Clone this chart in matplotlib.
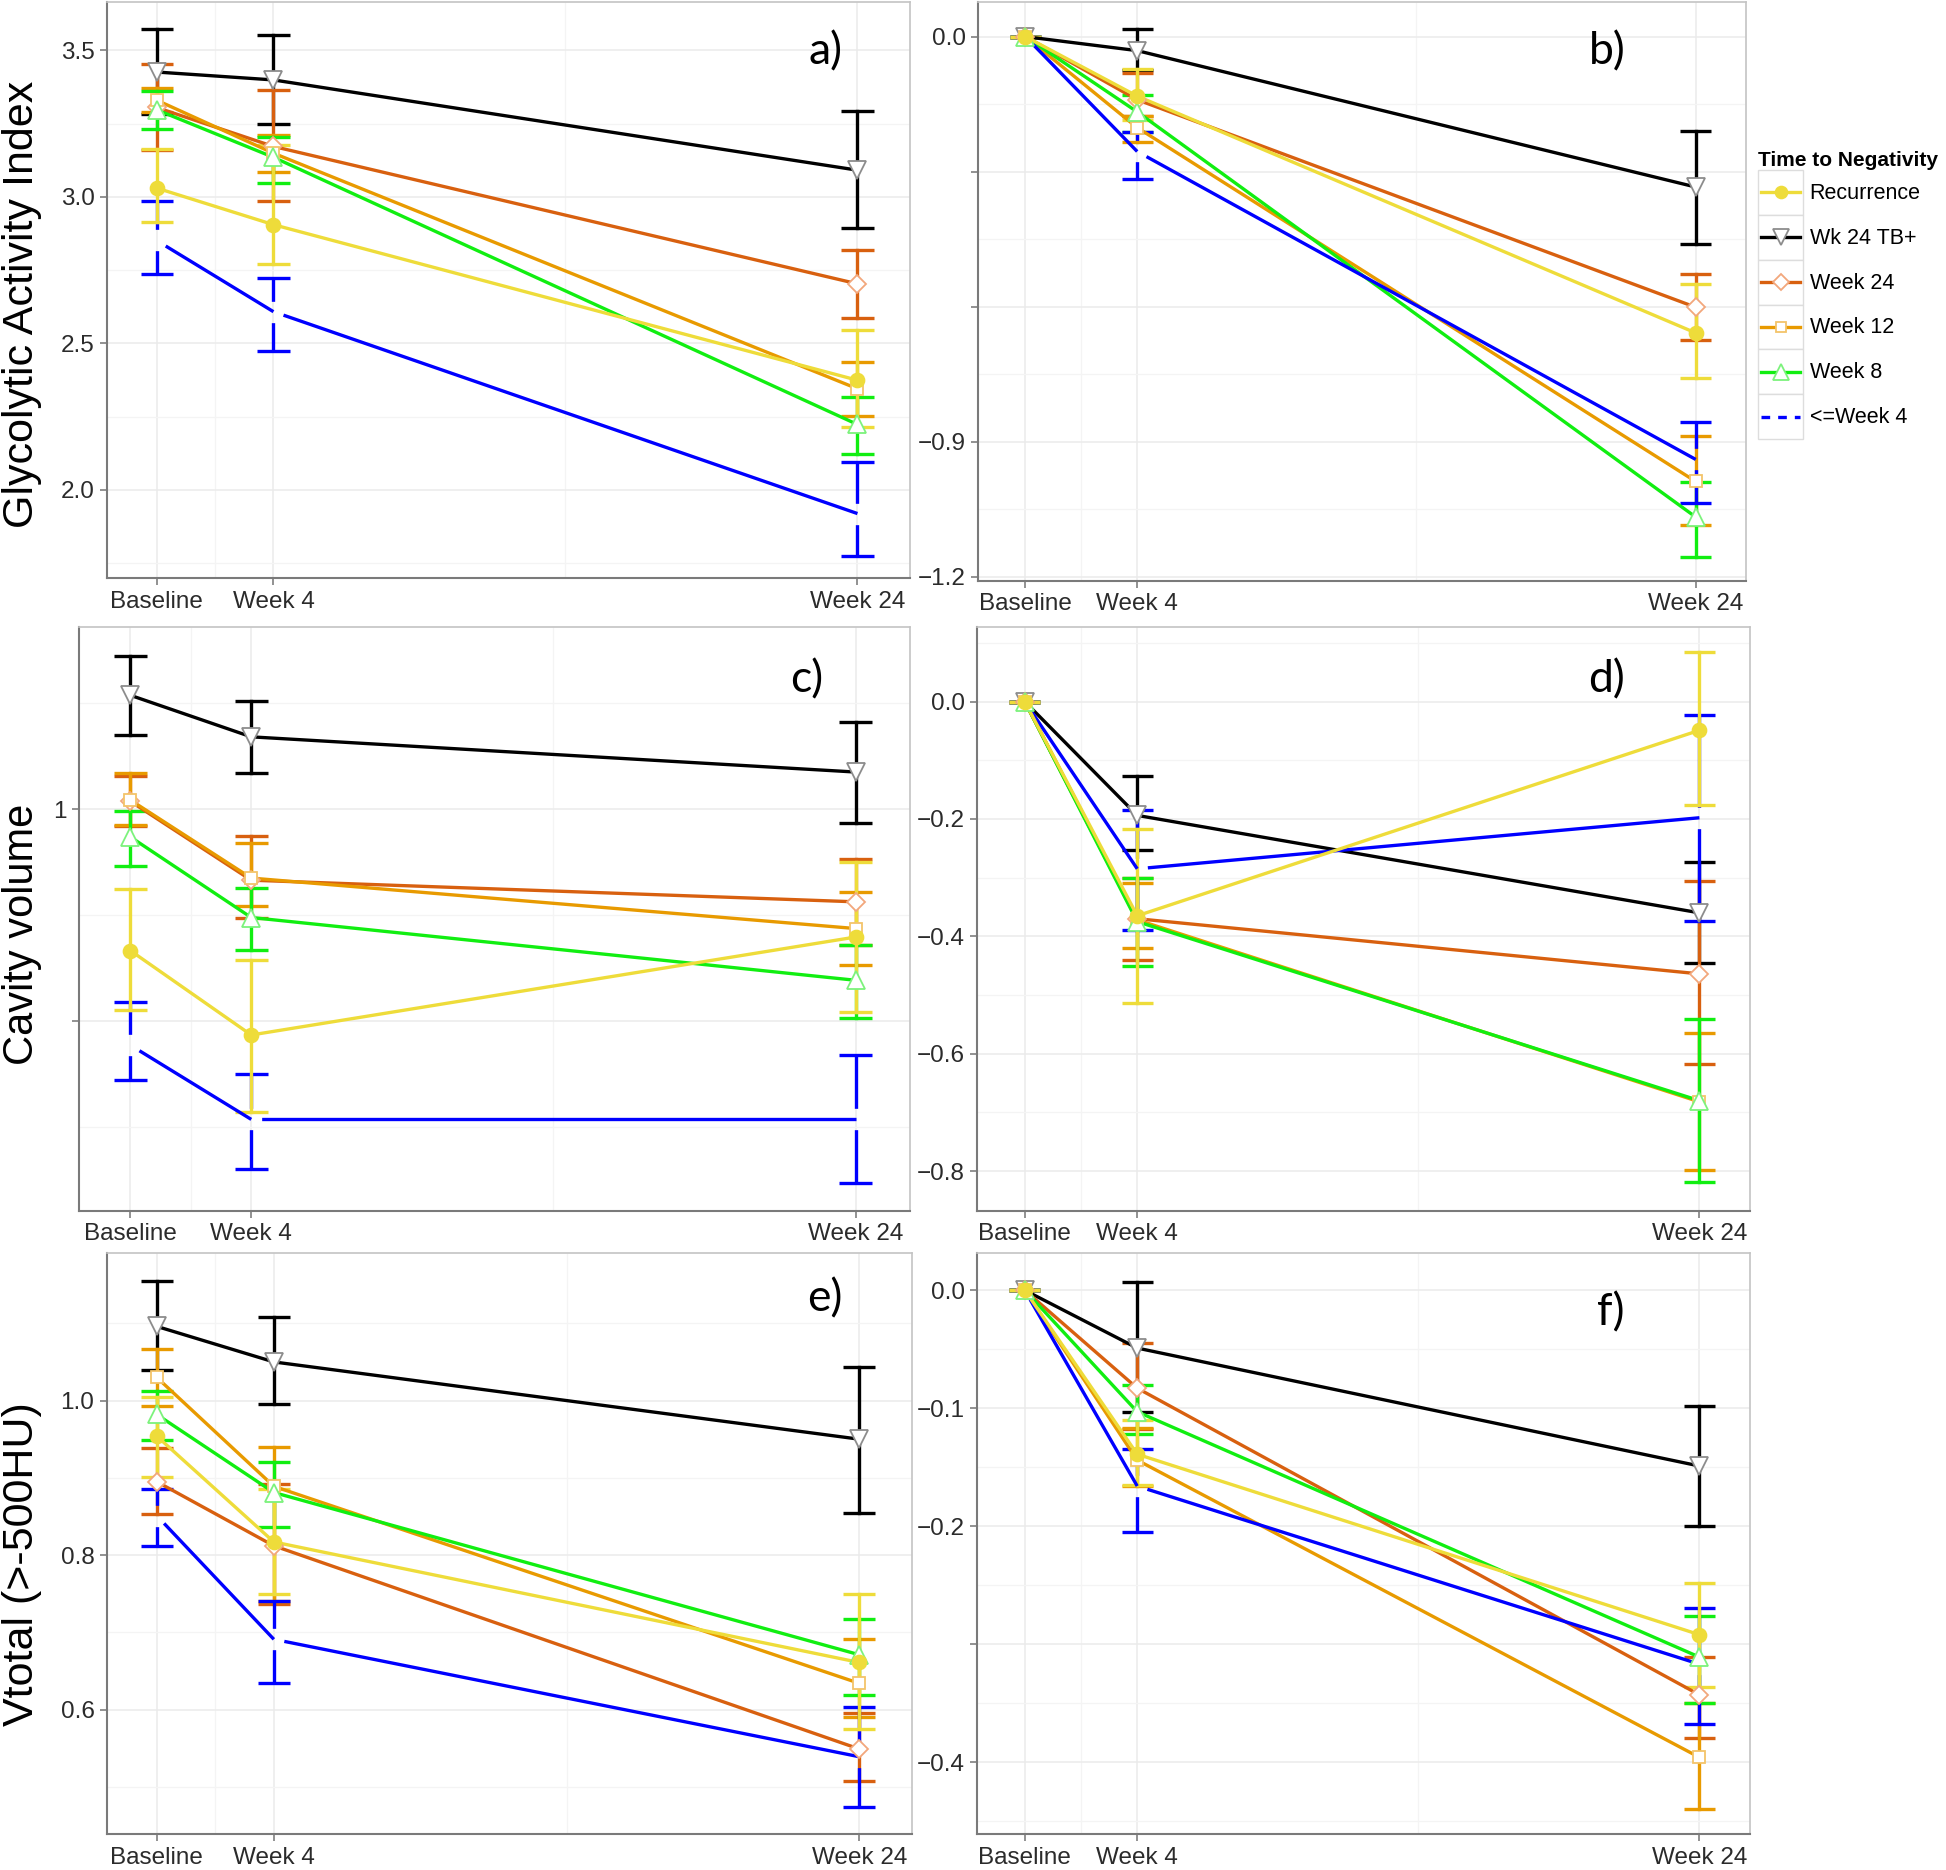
import matplotlib
matplotlib.use('Agg')
import matplotlib.pyplot as plt
from matplotlib.lines import Line2D
from matplotlib.patches import Rectangle
from matplotlib.legend_handler import HandlerBase

plt.rcParams['font.family'] = ['Liberation Sans', 'DejaVu Sans']

W, H = 1946, 1870

weeks = [0, 4, 24]
xlabels = ['Baseline', 'Week 4', 'Week 24']
groups = ['Recurrence', 'Wk 24 TB+', 'Week 24', 'Week 12', 'Week 8', '<=Week 4']

# rows follow groups, columns follow weeks
a_mean = [[3.03, 2.905, 2.374], [3.426, 3.399, 3.091], [3.305, 3.172, 2.703],
          [3.33, 3.149, 2.345], [3.297, 3.135, 2.223], [2.851, 2.608, 1.919]]
a_lo = [[2.915, 2.770, 2.216], [3.284, 3.247, 2.892], [3.16, 2.986, 2.588],
        [3.29, 3.085, 2.253], [3.230, 3.047, 2.122], [2.736, 2.473, 1.774]]
a_hi = [[3.162, 3.176, 2.547], [3.572, 3.554, 3.293], [3.453, 3.365, 2.820],
        [3.37, 3.21, 2.436], [3.361, 3.205, 2.318], [2.986, 2.723, 2.095]]

b_mean = [[0, -0.132, -0.658], [0, -0.031, -0.334], [0, -0.14, -0.601],
          [0, -0.202, -0.988], [0, -0.167, -1.067], [0, -0.255, -0.939]]
b_lo = [[0, -0.184, -0.759], [0, -0.075, -0.461], [0, -0.176, -0.674],
        [0, -0.233, -1.084], [0, -0.211, -1.155], [0, -0.316, -1.036]]
b_hi = [[0, -0.072, -0.549], [0, 0.016, -0.209], [0, -0.081, -0.527],
        [0, -0.176, -0.887], [0, -0.129, -0.990], [0, -0.211, -0.856]]

c_mean = [[0.667, 0.468, 0.699], [1.269, 1.171, 1.088], [1.019, 0.833, 0.782],
          [1.022, 0.838, 0.719], [0.935, 0.745, 0.597], [0.444, 0.269, 0.269]]
c_lo = [[0.528, 0.287, 0.523], [1.176, 1.086, 0.968], [0.960, 0.745, 0.681],
        [0.962, 0.771, 0.634], [0.866, 0.669, 0.509], [0.361, 0.153, 0.120]]
c_hi = [[0.812, 0.645, 0.875], [1.361, 1.256, 1.206], [1.079, 0.938, 0.884],
        [1.085, 0.921, 0.806], [0.995, 0.815, 0.681], [0.546, 0.375, 0.421]]

d_mean = [[0, -0.365, -0.049], [0, -0.194, -0.360], [0, -0.37, -0.464],
          [0, -0.372, -0.682], [0, -0.375, -0.68], [0, -0.285, -0.198]]
d_lo = [[0, -0.513, -0.177], [0, -0.253, -0.445], [0, -0.44, -0.618],
        [0, -0.42, -0.798], [0, -0.45, -0.818], [0, -0.39, -0.374]]
d_hi = [[0, -0.217, 0.085], [0, -0.127, -0.274], [0, -0.30, -0.305],
        [0, -0.31, -0.565], [0, -0.30, -0.541], [0, -0.184, -0.023]]

e_mean = [[0.954, 0.817, 0.661], [1.096, 1.050, 0.950], [0.895, 0.812, 0.549],
          [1.030, 0.889, 0.634], [0.982, 0.881, 0.671], [0.851, 0.691, 0.539]]
e_lo = [[0.901, 0.750, 0.575], [1.040, 0.995, 0.855], [0.853, 0.737, 0.507],
        [0.993, 0.740, 0.59], [0.949, 0.837, 0.619], [0.812, 0.634, 0.474]]
e_hi = [[1.005, 0.885, 0.749], [1.155, 1.108, 1.043], [0.939, 0.892, 0.595],
        [1.067, 0.940, 0.692], [1.012, 0.921, 0.717], [0.885, 0.740, 0.603]]

f_mean = [[0, -0.139, -0.292], [0, -0.049, -0.149], [0, -0.083, -0.343],
          [0, -0.144, -0.396], [0, -0.103, -0.311], [0, -0.166, -0.317]]
f_lo = [[0, -0.165, -0.336], [0, -0.103, -0.200], [0, -0.118, -0.380],
        [0, -0.166, -0.440], [0, -0.122, -0.350], [0, -0.205, -0.368]]
f_hi = [[0, -0.110, -0.248], [0, 0.007, -0.098], [0, -0.045, -0.311],
        [0, -0.117, -0.350], [0, -0.080, -0.276], [0, -0.135, -0.269]]

yellow = '#EEDC3A'
colors = [yellow, '#000000', '#D8600F', '#E89A00', '#11EE11', '#0000FF']
markers = ['o', 'v', 'D', 's', '^', 'None']
mfaces = [yellow, 'white', 'white', 'white', 'white', 'none']
medges = [yellow, '#8C8C8C', '#F2A77C', '#F3C46A', '#7CF27C', 'none']
msizes = [10, 13, 9, 9, 13, 0]
draw_order = [1, 2, 3, 4, 5, 0]

LW = 2.4
CAP = 0.55
GAP = (1000, (1000, 3.2))  # starts with a short gap, then solid

fig = plt.figure(figsize=(W / 100, H / 100), dpi=100)


def add_axes(l, t, r, b):
    return fig.add_axes([l / W, 1 - b / H, (r - l) / W, (b - t) / H])


def draw_panel(ax, mean, lo, hi, ylim, yticks, ytl, yminor, letter, lpos):
    ax.set_xlim(-1.7, 25.8)
    ax.set_ylim(*ylim)
    ax.set_xticks(weeks)
    ax.set_xticklabels(xlabels)
    ax.set_xticks([2, 14], minor=True)
    ax.set_yticks(yticks)
    ax.set_yticklabels(ytl)
    ax.set_yticks(yminor, minor=True)
    ax.grid(True, which='major', color='#EBEBEB', lw=1.1, zorder=0)
    ax.grid(True, which='minor', color='#F4F4F4', lw=0.9, zorder=0)
    ax.set_axisbelow(True)
    ax.tick_params(which='major', length=5, width=1.2, color='#7F7F7F',
                   labelsize=17.5, labelcolor='#2B2B2B', pad=4)
    ax.tick_params(which='minor', length=0)
    for s in ['left', 'bottom']:
        ax.spines[s].set_color('#7A7A7A')
        ax.spines[s].set_linewidth(1.5)
    for s in ['top', 'right']:
        ax.spines[s].set_color('#C4C4C4')
        ax.spines[s].set_linewidth(1.2)

    for g in draw_order:
        c = colors[g]
        blue = markers[g] == 'None'
        # error bars
        for i, x in enumerate(weeks):
            m, l, h = mean[g][i], lo[g][i], hi[g][i]
            if blue:
                ax.plot([x, x], [m, h], color=c, lw=LW, ls=GAP, zorder=3)
                ax.plot([x, x], [m, l], color=c, lw=LW, ls=GAP, zorder=3)
            else:
                ax.plot([x, x], [l, h], color=c, lw=LW, zorder=3)
            ax.plot([x - CAP, x + CAP], [h, h], color=c, lw=LW, zorder=3,
                    solid_capstyle='butt')
            ax.plot([x - CAP, x + CAP], [l, l], color=c, lw=LW, zorder=3,
                    solid_capstyle='butt')
        # mean lines
        if blue:
            for i in range(len(weeks) - 1):
                ax.plot(weeks[i:i + 2], mean[g][i:i + 2], color=c, lw=LW,
                        ls=GAP, zorder=4)
        else:
            ax.plot(weeks, mean[g], color=c, lw=LW, zorder=4)
            ax.plot(weeks, mean[g], ls='none', marker=markers[g], ms=msizes[g],
                    mfc=mfaces[g], mec=medges[g], mew=1.3, zorder=5)

    ax.text(lpos[0], lpos[1], letter, transform=ax.transAxes, ha='center',
            va='center', fontsize=32, family=['Lato', 'DejaVu Sans'])


M = '\u2212'
ax_a = add_axes(107, 2, 910, 578)
draw_panel(ax_a, a_mean, a_lo, a_hi, (1.699, 3.665), [2.0, 2.5, 3.0, 3.5],
           ['2.0', '2.5', '3.0', '3.5'], [1.75, 2.25, 2.75, 3.25],
           'a)', (0.895, 0.914))

ax_b = add_axes(978, 2, 1746, 581)
draw_panel(ax_b, b_mean, b_lo, b_hi, (-1.209, 0.077), [-1.2, -0.9, -0.6, -0.3, 0.0],
           [M + '1.2', M + '0.9', '', '', '0.0'], [-1.05, -0.75, -0.45, -0.15],
           'b)', (0.819, 0.914))

ax_c = add_axes(79, 627, 910, 1211)
draw_panel(ax_c, c_mean, c_lo, c_hi, (0.053, 1.43), [0.5, 1.0],
           ['', '1'], [0.25, 0.75, 1.25],
           'c)', (0.876, 0.909))

ax_d = add_axes(977, 627, 1750, 1211)
draw_panel(ax_d, d_mean, d_lo, d_hi, (-0.868, 0.127), [-0.8, -0.6, -0.4, -0.2, 0.0],
           [M + '0.8', M + '0.6', M + '0.4', M + '0.2', '0.0'],
           [-0.7, -0.5, -0.3, -0.1, 0.1],
           'd)', (0.815, 0.909))

ax_e = add_axes(107, 1253, 912, 1834)
draw_panel(ax_e, e_mean, e_lo, e_hi, (0.439, 1.191), [0.6, 0.8, 1.0],
           ['0.6', '0.8', '1.0'], [0.5, 0.7, 0.9, 1.1],
           'e)', (0.892, 0.921))

ax_f = add_axes(977, 1253, 1750, 1834)
draw_panel(ax_f, f_mean, f_lo, f_hi, (-0.461, 0.0316), [-0.4, -0.3, -0.2, -0.1, 0.0],
           [M + '0.4', '', M + '0.2', M + '0.1', '0.0'],
           [-0.45, -0.35, -0.25, -0.15, -0.05],
           'f)', (0.820, 0.897))

# y axis titles
fig.text(22 / W, 1 - 304 / H, 'Glycolytic Activity Index', rotation=90,
         ha='center', va='center', fontsize=31)
fig.text(22 / W, 1 - 934 / H, 'Cavity volume', rotation=90,
         ha='center', va='center', fontsize=30)
fig.text(22 / W, 1 - 1564 / H, 'Vtotal (>-500HU)', rotation=90,
         ha='center', va='center', fontsize=31)


class BoxHandler(HandlerBase):
    def __init__(self, ls):
        super().__init__()
        self.ls = ls

    def create_artists(self, legend, h, xd, yd, w, ht, fs, trans):
        box = Rectangle((-xd, -yd), w, ht, fc='white', ec='#DDDDDD', lw=1.0,
                        transform=trans)
        y = -yd + ht / 2
        ln = Line2D([-xd + 2, -xd + w - 2], [y, y], color=h.get_color(),
                    lw=LW, linestyle=self.ls, transform=trans)
        mk = Line2D([-xd + w / 2], [y], ls='none', marker=h.get_marker(),
                    ms=h.get_markersize() * 0.85, mfc=h.get_markerfacecolor(),
                    mec=h.get_markeredgecolor(), mew=1.3, transform=trans)
        return [box, ln, mk]


handles = [Line2D([], [], color=colors[g], marker=markers[g], ms=msizes[g],
                  mfc=mfaces[g], mec=medges[g]) for g in range(len(groups))]
legend_ls = ['-', '-', '-', '-', '-', (0, (2.6, 2.4))]
hmap = {h: BoxHandler(ls) for h, ls in zip(handles, legend_ls)}
fig.legend(handles, groups, handler_map=hmap, loc='upper left',
           bbox_to_anchor=(1758 / W, 1 - 151 / H), frameon=False,
           fontsize=15.5, title='Time to Negativity',
           title_fontproperties={'weight': 'bold', 'size': 15},
           alignment='left', handlelength=2.1, handleheight=2.83,
           labelspacing=0, handletextpad=0.3, borderpad=0, borderaxespad=0)

fig.savefig('out.png', dpi=100)
